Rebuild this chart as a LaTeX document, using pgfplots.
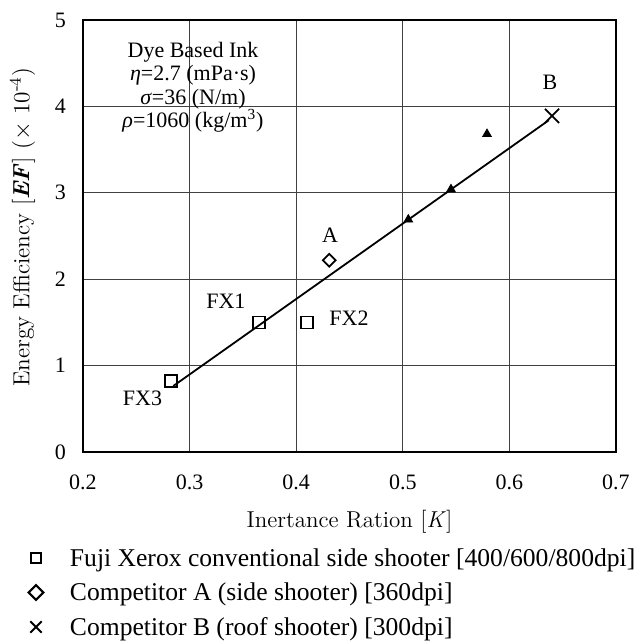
\documentclass[border=0pt]{standalone}
\usepackage{fontspec}
\newfontfamily\tnr{Liberation Serif}
\usepackage{pgfplots}
\pgfplotsset{compat=1.18}
\begin{document}
\begin{tikzpicture}
\begin{axis}[
  scale only axis,
  width=266.5pt, height=216pt,
  xmin=0.2, xmax=0.7, ymin=0, ymax=5,
  xtick={0.2,0.3,0.4,0.5,0.6,0.7},
  ytick={0,1,2,3,4,5},
  xticklabel style={/pgf/number format/fixed,/pgf/number format/fixed zerofill,/pgf/number format/precision=1,yshift=-8pt},
  yticklabel style={xshift=-5pt},
  /pgf/number format/assume math mode=true,
  tick label style={font=\tnr\fontsize{11}{13}\selectfont},
  major tick length=0pt,
  grid=major,
  major grid style={black!75,line width=0.45pt},
  axis line style={line width=1pt},
  xlabel={Inertance Ration [\textit{K}]},
  ylabel={Energy Efficiency [\textbf{\textit{EF}}] ($\times$ 10\textsuperscript{-4})},
  xlabel style={font=\fontsize{11.5}{13}\selectfont,at={(axis description cs:0.5,0)},anchor=center,yshift=-35pt},
  ylabel style={font=\fontsize{11.6}{13}\selectfont,at={(axis description cs:-0.1135,0.52)},anchor=center},
  legend style={at={(axis description cs:0,0)},anchor=north west,xshift=-28.5pt,yshift=-48pt,
    draw=none,fill=none,inner sep=0pt,outer sep=0pt,
    nodes={inner sep=0pt,text height=9pt,text depth=3pt},
    row sep=5.25pt, column sep=12pt,
    font=\tnr\fontsize{12.8}{15}\selectfont},
  legend cell align=left,
  clip=false,
]
% fit line
\addplot[black,line width=0.9pt,forget plot] coordinates {(0.2847,0.764) (0.637,3.84)};
% Fuji Xerox squares
\addplot[only marks,mark=square,mark size=3pt,mark options={line width=0.9pt},
  legend image code/.code={\path[draw=none,fill=none] (-5pt,0)--(5pt,0);\draw[only marks,mark=square,mark size=2.4pt,line width=0.55pt] plot coordinates {(0pt,1pt)};}]
  coordinates {(0.2826,0.825) (0.3648,1.50) (0.4104,1.50)};
\addlegendentry{Fuji Xerox conventional side shooter [400/600/800dpi]}
% Competitor A
\addplot[only marks,mark=square,mark size=2.25pt,mark options={rotate=45,line width=0.9pt},
  legend image code/.code={\path[draw=none,fill=none] (-5pt,0)--(5pt,0);\draw[only marks,mark=square,mark size=2.6pt,mark options={rotate=45},line width=1pt] plot coordinates {(0pt,1pt)};}]
  coordinates {(0.431,2.22)};
\addlegendentry{Competitor A (side shooter) [360dpi]}
% Competitor B
\addplot[only marks,mark=x,mark size=5pt,mark options={line width=0.9pt},
  legend image code/.code={\path[draw=none,fill=none] (-5pt,0)--(5pt,0);\draw[only marks,mark=x,mark size=4pt,line width=0.8pt] plot coordinates {(0pt,1pt)};}]
  coordinates {(0.640,3.89)};
\addlegendentry{Competitor B (roof shooter) [300dpi]}
% triangles
\addplot[only marks,mark=triangle*,mark size=2.5pt,black,forget plot]
  coordinates {(0.5052,2.69) (0.5452,3.04) (0.579,3.68)};
% labels
\node[font=\tnr\fontsize{11}{13}\selectfont] at (axis cs:0.334,1.748) {FX1};
\node[font=\tnr\fontsize{11}{13}\selectfont] at (axis cs:0.4495,1.545) {FX2};
\node[font=\tnr\fontsize{11}{13}\selectfont] at (axis cs:0.2558,0.619) {FX3};
\node[font=\tnr\fontsize{11}{13}\selectfont] at (axis cs:0.4317,2.51) {A};
\node[font=\tnr\fontsize{11}{13}\selectfont] at (axis cs:0.638,4.28) {B};
\node[font=\tnr\fontsize{11}{11.6}\selectfont,align=center,anchor=north,inner sep=0pt] at (axis cs:0.3032,4.745)
  {Dye Based Ink\\ \textit{η}=2.7 (mPa·s)\\ \textit{σ}=36 (N/m)\\ \textit{ρ}=1060 (kg/m\textsuperscript{3})};
\end{axis}
\path (current axis.south west) ++(-41.5pt,-96pt) rectangle ++(317pt,322pt);
\end{tikzpicture}
\end{document}
